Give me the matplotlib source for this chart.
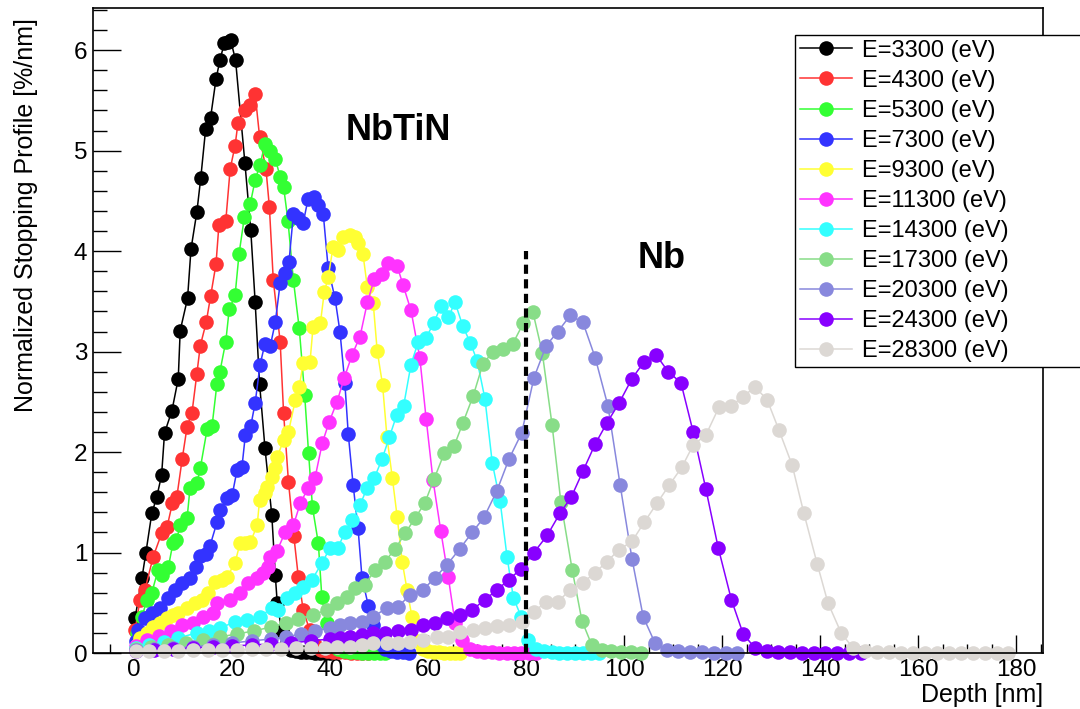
import matplotlib
matplotlib.use("Agg")
import matplotlib.pyplot as plt
from matplotlib.ticker import MultipleLocator

plt.rcParams['font.family'] = ['Liberation Sans', 'DejaVu Sans']

# stopping profiles, (depth nm, %/nm)
e3300 = [(0.2,0.35),(1.6,0.75),(2.4,1.0),(3.6,1.39),(4.6,1.55),(5.6,1.77),(6.2,2.19),(7.7,2.41),(9.0,2.73),(9.4,3.21),
         (10.9,3.53),(11.6,4.02),(12.8,4.39),(13.6,4.73),(14.6,5.22),(15.6,5.33),(16.7,5.71),(17.5,5.9),(18.4,6.07),
         (19.2,6.08),(19.7,6.1),(20.7,5.9),(22.6,4.88),(23.8,4.21),(24.7,3.49),(25.6,2.68),(26.7,2.04),(28.1,1.37),
         (28.8,0.78),(29.2,0.5),(30.1,0.22),(31.0,0.08),(32.0,0.03),(33.0,0.02),(34.0,0.01),(35.0,0.01),(36.0,0.01),
         (37.0,0.0),(38.0,0.0),(39.0,0.0),(40.0,0.0)]
e4300 = [(0.2,0.23),(1.2,0.53),(2.2,0.63),(3.9,0.96),(5.6,1.19),(6.7,1.25),(7.8,1.49),(8.7,1.55),(9.8,1.93),(10.8,2.25),
         (11.8,2.39),(12.8,2.78),(13.5,3.06),(14.7,3.29),(15.6,3.55),(16.7,3.87),(17.3,4.26),(18.7,4.3),(19.6,4.82),
         (20.6,5.05),(21.2,5.28),(22.6,5.4),(23.7,5.45),(24.7,5.56),(25.6,5.14),(26.9,4.82),(27.6,4.44),(28.4,3.71),
         (29.8,3.1),(30.5,2.39),(31.5,1.7),(32.6,1.16),(33.5,0.76),(34.5,0.43),(35.8,0.23),(37.0,0.08),(38.2,0.03),
         (39.4,0.02),(40.6,0.01),(41.8,0.01),(43.0,0.01),(44.2,0.0),(45.4,0.0),(46.6,0.0),(47.8,0.0)]
e5300 = [(0.6,0.2),(1.6,0.36),(2.6,0.53),(3.6,0.6),(4.9,0.83),(5.6,0.78),(7.0,0.86),(7.9,1.09),(8.6,1.12),(9.4,1.27),
         (10.8,1.34),(11.4,1.64),(12.8,1.69),(13.5,1.84),(14.9,2.23),(15.9,2.26),(16.9,2.68),(17.5,2.8),(18.7,3.1),
         (19.4,3.42),(20.6,3.56),(21.4,3.97),(22.5,4.34),(23.7,4.47),(24.7,4.71),(25.7,4.86),(26.7,5.07),(27.8,5.0),
         (28.8,4.92),(29.8,4.74),(30.5,4.64),(31.4,4.3),(32.5,3.71),(33.7,3.23),(34.8,2.57),(35.6,1.99),(36.4,1.45),
         (37.6,1.09),(38.3,0.56),(39.3,0.3),(40.5,0.1),(41.7,0.04),(42.9,0.02),(44.1,0.01),(45.3,0.01),(46.5,0.0),
         (47.7,0.0),(48.9,0.0),(50.1,0.0),(51.3,0.0)]
e7300 = [(0.3,0.12),(0.8,0.23),(2.2,0.35),(3.6,0.4),(5.3,0.45),(7.0,0.55),(8.4,0.63),(9.8,0.7),(11.4,0.75),(12.6,0.86),
         (13.5,0.97),(14.6,0.99),(15.5,1.07),(16.9,1.3),(17.6,1.42),(19.0,1.54),(20.0,1.57),(21.0,1.82),(22.0,1.85),
         (22.7,2.17),(23.8,2.26),(24.7,2.49),(25.7,2.87),(26.7,3.08),(27.8,3.06),(28.8,3.29),(29.8,3.68),(30.8,3.78),
         (31.6,3.89),(32.5,4.37),(33.5,4.33),(34.5,4.28),(35.5,4.52),(36.7,4.54),(37.6,4.46),(38.6,4.37),(39.6,3.83),
         (41.0,3.53),(42.0,3.2),(43.0,2.69),(43.7,2.18),(44.7,1.67),(45.7,1.24),(46.5,0.75),(47.8,0.47),(48.8,0.28),
         (50.0,0.1),(51.2,0.04),(52.4,0.02),(53.6,0.01),(54.8,0.01),(56.0,0.0)]
e9300 = [(0.5,0.08),(1.2,0.15),(2.6,0.2),(3.9,0.26),(5.3,0.3),(6.7,0.35),(8.0,0.38),(9.0,0.4),(10.8,0.45),(12.4,0.5),
         (13.9,0.53),(15.1,0.6),(16.5,0.71),(18.0,0.73),(19.0,0.76),(20.6,0.9),(21.6,1.09),(22.7,1.09),(23.7,1.1),
         (25.1,1.27),(25.6,1.52),(26.7,1.59),(27.1,1.65),(28.1,1.75),(28.8,1.84),(29.2,1.95),(30.5,2.12),(31.5,2.2),
         (32.9,2.52),(33.7,2.65),(34.5,2.89),(35.9,2.9),(36.5,3.24),(38.0,3.28),(38.8,3.59),(39.6,3.74),(40.6,4.04),
         (41.6,4.01),(42.7,4.14),(44.1,4.16),(45.1,4.14),(45.7,4.08),(46.7,3.97),(47.6,3.64),(48.8,3.48),(49.6,3.01),
         (50.7,2.67),(51.6,2.15),(52.7,1.74),(53.7,1.35),(54.7,0.91),(55.7,0.63),(56.7,0.36),(57.8,0.12),(58.9,0.04),
         (60.0,0.02),(61.1,0.01),(62.2,0.01),(63.3,0.0),(64.4,0.0),(65.5,0.0),(66.6,0.0)]
e11300 = [(0.3,0.07),(2.6,0.13),(5.0,0.17),(7.5,0.22),(9.8,0.28),(12.0,0.3),(14.0,0.36),(16.1,0.4),(16.9,0.5),(19.6,0.53),
          (21.6,0.6),(23.3,0.7),(25.0,0.75),(26.3,0.8),(27.3,0.86),(27.8,0.96),(29.2,1.02),(30.8,1.2),(32.5,1.27),
          (33.9,1.49),(35.5,1.64),(36.9,1.74),(38.4,2.09),(39.8,2.3),(41.4,2.5),(42.9,2.74),(44.5,2.97),(46.1,3.15),
          (47.6,3.49),(49.0,3.72),(50.6,3.77),(51.8,3.88),(53.7,3.85),(54.9,3.66),(56.5,3.41),(58.3,2.94),(59.6,2.33),
          (61.0,1.72),(62.6,1.21),(64.1,0.76),(65.5,0.3),(67.0,0.13),(68.5,0.04),(70.0,0.02),(71.5,0.01),(73.0,0.01),
          (74.5,0.0),(76.0,0.0),(77.5,0.0),(79.0,0.0),(80.5,0.0),(82.0,0.0)]
e14300 = [(0.3,0.05),(3.0,0.08),(6.0,0.11),(9.0,0.15),(12.8,0.2),(15.2,0.22),(17.6,0.25),(20.6,0.31),(23.0,0.33),
          (25.7,0.36),(28.1,0.45),(29.4,0.43),(31.2,0.55),(32.9,0.6),(34.5,0.66),(36.3,0.73),(38.4,0.9),(40.0,1.05),
          (41.6,1.05),(43.0,1.2),(44.5,1.32),(46.1,1.47),(47.5,1.64),(49.0,1.74),(50.6,1.93),(52.1,2.15),(53.6,2.37),
          (55.0,2.46),(56.5,2.87),(58.0,3.1),(59.6,3.14),(61.1,3.28),(62.6,3.45),(64.1,3.34),(65.5,3.49),(67.1,3.25),
          (68.6,3.09),(70.0,2.91),(71.6,2.53),(73.1,1.89),(74.7,1.51),(76.1,0.96),(77.4,0.55),(79.0,0.36),(80.4,0.13),
          (82.0,0.04),(83.6,0.02),(85.2,0.01),(86.8,0.0),(88.4,0.0),(90.0,0.0),(91.6,0.0),(93.2,0.0),(94.8,0.0)]
e17300 = [(0.3,0.04),(3.5,0.06),(7.0,0.08),(10.5,0.1),(14.0,0.13),(17.5,0.16),(21.0,0.19),(24.5,0.22),(28.0,0.26),
          (31.0,0.3),(33.5,0.34),(36.5,0.38),(39.4,0.43),(41.4,0.5),(43.4,0.56),(45.1,0.65),(47.1,0.68),(49.2,0.83),
          (51.2,0.91),(53.3,1.04),(55.3,1.19),(57.3,1.34),(59.3,1.49),(61.2,1.73),(63.3,1.99),(65.3,2.06),(67.1,2.29),
          (69.2,2.56),(71.2,2.88),(73.3,3.0),(75.3,3.03),(77.3,3.08),(79.4,3.28),(81.4,3.39),(83.3,2.99),(85.3,2.27),
          (87.1,1.5),(89.4,0.83),(91.4,0.32),(93.4,0.08),(95.4,0.03),(97.4,0.02),(99.4,0.01),(101.4,0.01),(103.4,0.0)]
e20300 = [(0.3,0.03),(4.0,0.04),(8.0,0.05),(12.0,0.06),(16.0,0.08),(20.0,0.1),(24.0,0.12),(28.0,0.14),(31.0,0.16),
          (34.0,0.19),(37.0,0.22),(40.0,0.25),(42.0,0.28),(44.1,0.3),(46.5,0.31),(48.8,0.36),(51.6,0.45),(53.9,0.46),
          (56.3,0.58),(59.0,0.63),(61.4,0.75),(63.9,0.88),(66.5,1.04),(69.0,1.2),(71.4,1.35),(74.0,1.61),(76.5,1.93),
          (79.1,2.19),(81.6,2.74),(84.1,3.06),(86.5,3.2),(89.0,3.36),(91.6,3.29),(94.1,2.94),(96.7,2.46),(99.2,1.67),
          (101.6,0.94),(103.9,0.36),(106.3,0.1),(108.7,0.03),(111.1,0.02),(113.5,0.01),(115.9,0.01),(118.3,0.0),
          (120.7,0.0),(123.1,0.0)]
e24300 = [(0.3,0.02),(4.0,0.03),(8.0,0.04),(12.0,0.05),(16.0,0.06),(20.0,0.07),(24.0,0.08),(28.0,0.09),(32.0,0.1),
          (36.0,0.12),(40.0,0.14),(42.0,0.15),(44.0,0.16),(46.5,0.18),(48.8,0.2),(51.2,0.2),(53.9,0.22),(56.5,0.23),
          (59.0,0.28),(61.4,0.3),(63.9,0.35),(66.5,0.38),(69.0,0.43),(71.6,0.53),(74.1,0.63),(76.5,0.73),(79.0,0.84),
          (81.6,1.0),(84.3,1.17),(86.9,1.39),(89.2,1.55),(91.6,1.81),(94.1,2.08),(96.5,2.29),(99.0,2.49),(101.6,2.73),
          (104.1,2.9),(106.5,2.97),(109.0,2.8),(111.6,2.69),(114.1,2.2),(116.7,1.63),(119.2,1.05),(121.9,0.53),
          (124.3,0.19),(126.7,0.05),(129.1,0.02),(131.5,0.01),(133.9,0.01),(136.3,0.0),(138.7,0.0),(141.1,0.0),
          (143.5,0.0),(145.9,0.0),(148.3,0.0)]
e28300 = [(0.3,0.02),(3.0,0.02),(6.0,0.02),(9.0,0.02),(12.0,0.03),(15.0,0.03),(18.0,0.03),(21.0,0.03),(24.0,0.04),
          (27.0,0.04),(30.0,0.04),(33.0,0.05),(36.0,0.05),(39.0,0.05),(41.5,0.06),(44.0,0.06),(46.5,0.08),(48.8,0.1),
          (51.6,0.1),(53.9,0.1),(56.3,0.11),(59.0,0.13),(61.8,0.16),(64.1,0.16),(66.5,0.21),(69.2,0.23),(71.6,0.25),
          (74.0,0.27),(76.5,0.28),(79.2,0.31),(81.6,0.41),(84.1,0.51),(86.5,0.51),(89.0,0.63),(91.6,0.7),(94.1,0.8),
          (96.5,0.91),(99.0,1.03),(101.6,1.11),(104.1,1.3),(106.7,1.49),(109.2,1.67),(111.8,1.85),(114.1,2.07),
          (116.7,2.17),(119.4,2.45),(121.8,2.46),(124.3,2.55),(126.7,2.65),(129.2,2.52),(131.6,2.22),(134.3,1.87),
          (136.7,1.39),(139.4,0.89),(141.6,0.5),(144.3,0.2),(146.7,0.05),(149.2,0.02),(151.6,0.01),(154.1,0.01),
          (156.5,0.0),(159.0,0.0),(161.4,0.0),(163.9,0.0),(166.3,0.0),(168.8,0.0),(171.2,0.0),(173.7,0.0),(176.1,0.0),
          (178.3,0.0)]

profiles = [e3300, e4300, e5300, e7300, e9300, e11300, e14300, e17300, e20300, e24300, e28300]
labels = ["E=3300 (eV)", "E=4300 (eV)", "E=5300 (eV)", "E=7300 (eV)", "E=9300 (eV)", "E=11300 (eV)",
          "E=14300 (eV)", "E=17300 (eV)", "E=20300 (eV)", "E=24300 (eV)", "E=28300 (eV)"]
colors = ["#000000", "#ff3333", "#33ff33", "#3333ff", "#ffff33", "#ff33ff",
          "#33ffff", "#88dd88", "#8888dd", "#8800ff", "#dcd8d4"]

interface = 80      # NbTiN / Nb boundary
interface_top = 4.0

fig = plt.figure(figsize=(10.8, 7.09), dpi=100)
ax = fig.add_axes([93/1080, 1-653/709, 950/1080, 645/709])

handles = []
for prof, lab, c in zip(profiles, labels, colors):
    xs = [p[0] for p in prof]
    ys = [p[1] for p in prof]
    h, = ax.plot(xs, ys, '-o', color=c, lw=1.1, ms=10.5, mew=0, label=lab, clip_on=False)
    handles.append(h)

ax.plot([interface, interface], [0, interface_top], color='black', lw=3,
        dashes=(2.2, 1.3), solid_capstyle='butt', dash_capstyle='butt')

ax.text(54, 5.2, "NbTiN", fontsize=26, fontweight='bold', ha='center', va='center')
ax.text(107.6, 3.93, "Nb", fontsize=26, fontweight='bold', ha='center', va='center')

ax.set_xlim(-8.4, 185.5)
ax.set_ylim(0, 6.42)
ax.xaxis.set_major_locator(MultipleLocator(20))
ax.xaxis.set_minor_locator(MultipleLocator(5))
ax.yaxis.set_major_locator(MultipleLocator(1))
ax.yaxis.set_minor_locator(MultipleLocator(0.2))
ax.tick_params(axis='both', which='both', direction='in', top=False, right=False,
               labelsize=17.5, width=1)
ax.tick_params(axis='x', which='major', length=13, pad=4)
ax.tick_params(axis='x', which='minor', length=6.5)
ax.tick_params(axis='y', which='major', length=20, pad=4)
ax.tick_params(axis='y', which='minor', length=10)
for s in ax.spines.values():
    s.set_linewidth(1.2)

fig.text(26/1080, 1-18/709, "Normalized Stopping Profile [%/nm]", rotation=90,
         ha='center', va='top', fontsize=18)
fig.text(1043/1080, 1-695/709, "Depth [nm]", ha='right', va='center', fontsize=18)

leg = fig.legend(handles=handles, loc='upper left', bbox_to_anchor=(795/1080, 1-35/709, 0.3, 0.0),
                 mode='expand', fontsize=17, frameon=True, fancybox=False, framealpha=1,
                 edgecolor='black', borderpad=0.2, labelspacing=0.34, handlelength=2.2,
                 handletextpad=0.45, borderaxespad=0)
leg.get_frame().set_linewidth(1.0)

fig.savefig("out.png", dpi=100)
